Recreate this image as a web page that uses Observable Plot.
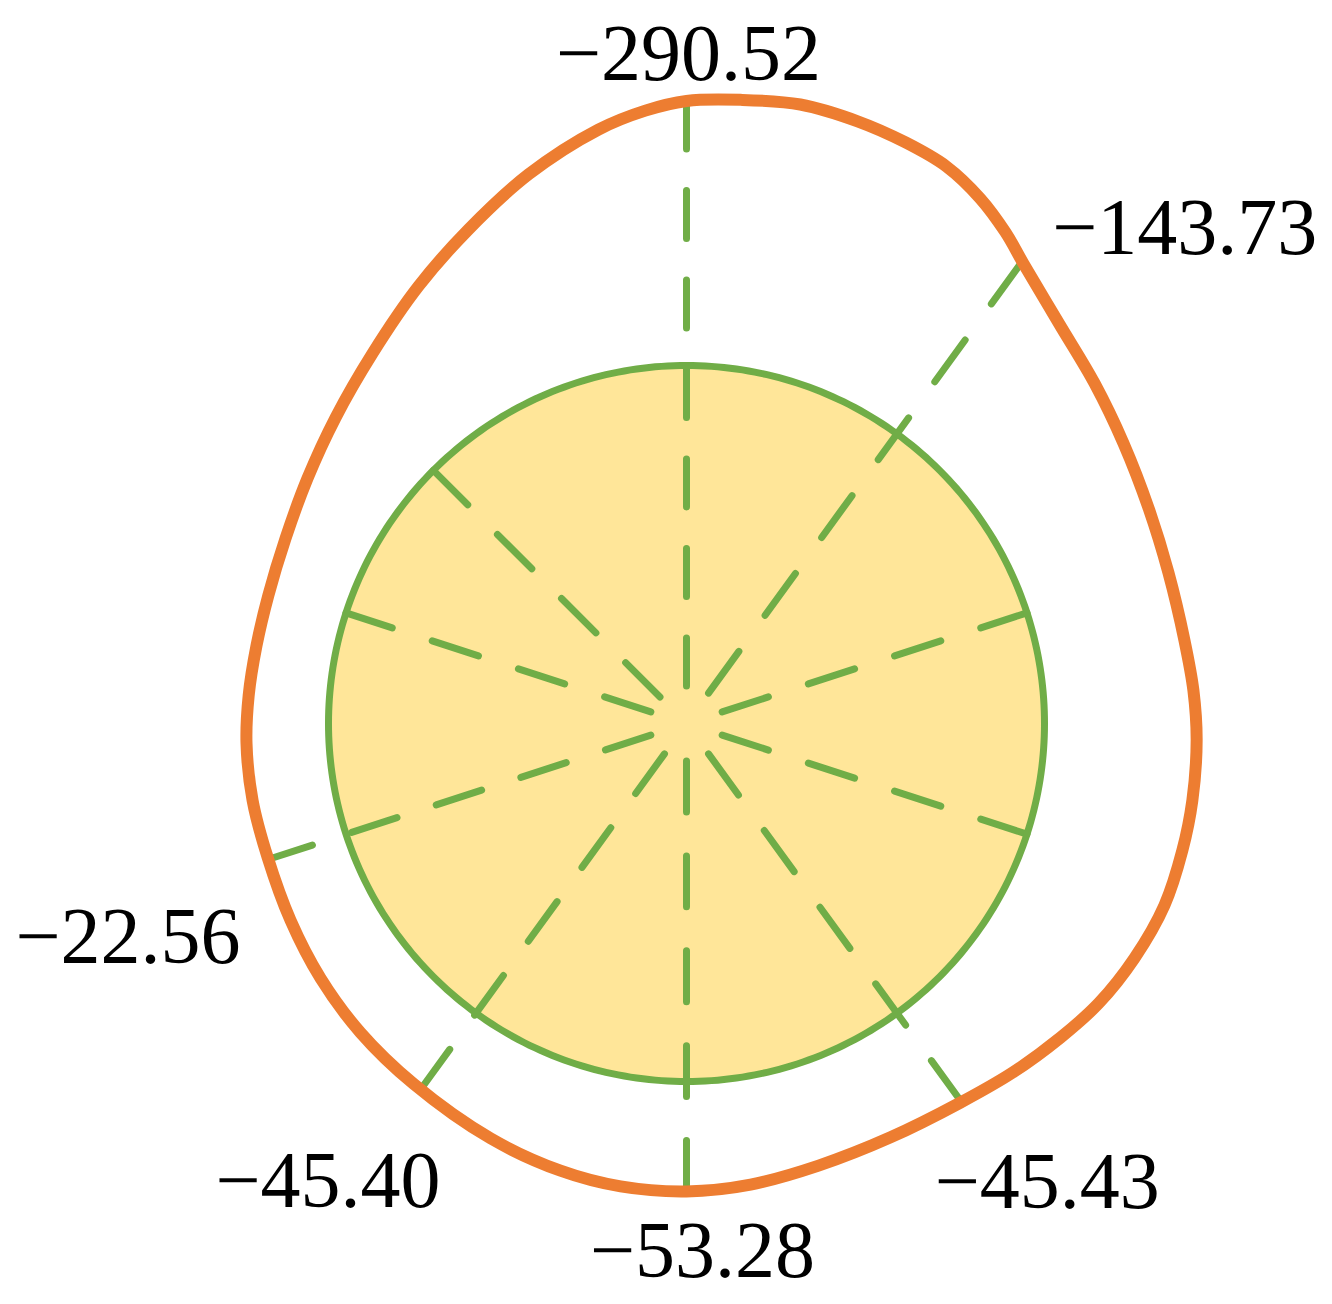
<!DOCTYPE html>
<html>
<head>
<meta charset="utf-8">
<script src="https://cdn.jsdelivr.net/npm/d3@7"></script>
<script src="https://cdn.jsdelivr.net/npm/@observablehq/plot@0.6"></script>
<style>
  html, body { margin: 0; padding: 0; background: #ffffff; }
  #chart svg { display: block; }
</style>
</head>
<body>
<div id="chart"></div>
<script>
// ---------------- DATA ----------------
// Outer (orange) contour, read clockwise from the top; coordinates in units
// of the tunnel radius, origin at the tunnel centre (y up).
const contourX = [0, 0.151, 0.318, 0.478, 0.612, 0.726, 0.821, 0.891, 0.941, 1.042,
                  1.140, 1.221, 1.291, 1.346, 1.391, 1.416, 1.425, 1.413, 1.385, 1.335,
                  1.251, 1.151, 1.045, 0.911, 0.765, 0.570, 0.369, 0.179, 0, -0.184,
                  -0.352, -0.547, -0.763, -0.911, -1.022, -1.106, -1.170, -1.212, -1.229, -1.223,
                  -1.201, -1.168, -1.120, -1.059, -0.980, -0.877, -0.749, -0.609, -0.441, -0.246,
                  -0.115];
const contourY = [1.739, 1.742, 1.729, 1.682, 1.623, 1.556, 1.466, 1.372, 1.285, 1.115,
                  0.950, 0.782, 0.601, 0.422, 0.232, 0.092, -0.047, -0.215, -0.355, -0.508,
                  -0.656, -0.782, -0.877, -0.975, -1.059, -1.156, -1.235, -1.288, -1.307, -1.293,
                  -1.249, -1.159, -1.006, -0.863, -0.712, -0.550, -0.374, -0.215, -0.056, 0.078,
                  0.218, 0.358, 0.517, 0.684, 0.855, 1.034, 1.221, 1.380, 1.534, 1.659,
                  1.712];

// Tunnel (inner circle) radius
const tunnelRadius = 1;

// Measurement lines (spokes): direction in degrees, length in tunnel radii, value
const spokeAngles  = [90, 54, 18, -18, -54, -90, -126, -162, 162, 135];
const spokeLengths = [1.739, 1.593, 1, 1, 1.306, 1.307, 1.262, 1.232, 1, 1];
const spokeLabels  = ["−290.52", "−143.73", null, null, "−45.43", "−53.28", "−45.40", "−22.56", null, null];

// ---------------- BUILD ----------------
const W = 1332, H = 1304;
const cx = 686, cy = 723, unit = 358;          // view frame: centre and px per tunnel radius
const GREEN = "#70AD47", ORANGE = "#ED7D31", FILL = "#FFE699";
const rad = a => a * Math.PI / 180;

const contour = contourX.map((x, i) => ({ x, y: contourY[i] }));
const circle = d3.range(0, 361, 1).map(a => ({
  x: tunnelRadius * Math.cos(rad(a)),
  y: tunnelRadius * Math.sin(rad(a))
}));

const innerGap = 37.5 / unit;                  // spokes start a little away from the centre
const spokes = spokeAngles.map((a, i) => ({
  x1: innerGap * Math.cos(rad(a)), y1: innerGap * Math.sin(rad(a)),
  x2: spokeLengths[i] * Math.cos(rad(a)), y2: spokeLengths[i] * Math.sin(rad(a)),
  len: (spokeLengths[i] - innerGap) * unit,
  label: spokeLabels[i]
}));

// dash pattern fitted so each spoke both starts and ends with a dash
const DASH = 48, GAP = 41.5;
const spokeMarks = spokes.map(s => {
  const n = Math.max(1, Math.round((s.len + GAP) / (DASH + GAP)));
  const k = s.len / (n * DASH + (n - 1) * GAP);
  return Plot.link([s], {
    x1: "x2", y1: "y2", x2: "x1", y2: "y1",
    stroke: GREEN, strokeWidth: 7,
    strokeDasharray: `${DASH * k},${GAP * k}`,
    strokeLinecap: "round"
  });
});

// label placement offsets (px) relative to spoke end
const labelOffset = {
  "−290.52": [2, -21],
  "−143.73": [163, -8],
  "−45.43": [86, 106],
  "−53.28": [16, 86],
  "−45.40": [-93, 118],
  "−22.56": [-139, 103]
};

const labelMarks = spokes.filter(d => d.label).map(d => Plot.text([d], {
  x: "x2", y: "y2", text: "label",
  dx: labelOffset[d.label][0], dy: labelOffset[d.label][1],
  textAnchor: "middle", lineAnchor: "bottom",
  fontFamily: "'Liberation Serif', 'Times New Roman', serif",
  fontSize: 80, fill: "#000000"
}));

const chart = Plot.plot({
  width: W, height: H,
  margin: 0,
  style: { background: "#ffffff", overflow: "visible" },
  x: { domain: [-cx / unit, (W - cx) / unit], axis: null },
  y: { domain: [-(H - cy) / unit, cy / unit], axis: null },
  marks: [
    Plot.line(circle, { x: "x", y: "y", fill: FILL, stroke: "none" }),
    ...spokeMarks,
    Plot.line(circle, { x: "x", y: "y", stroke: GREEN, strokeWidth: 7, strokeLinejoin: "round" }),
    Plot.line(contour, { x: "x", y: "y", curve: "catmull-rom-closed", stroke: ORANGE, strokeWidth: 12, strokeLinejoin: "round" }),
    ...labelMarks
  ]
});

document.getElementById("chart").appendChild(chart);
</script>
</body>
</html>
